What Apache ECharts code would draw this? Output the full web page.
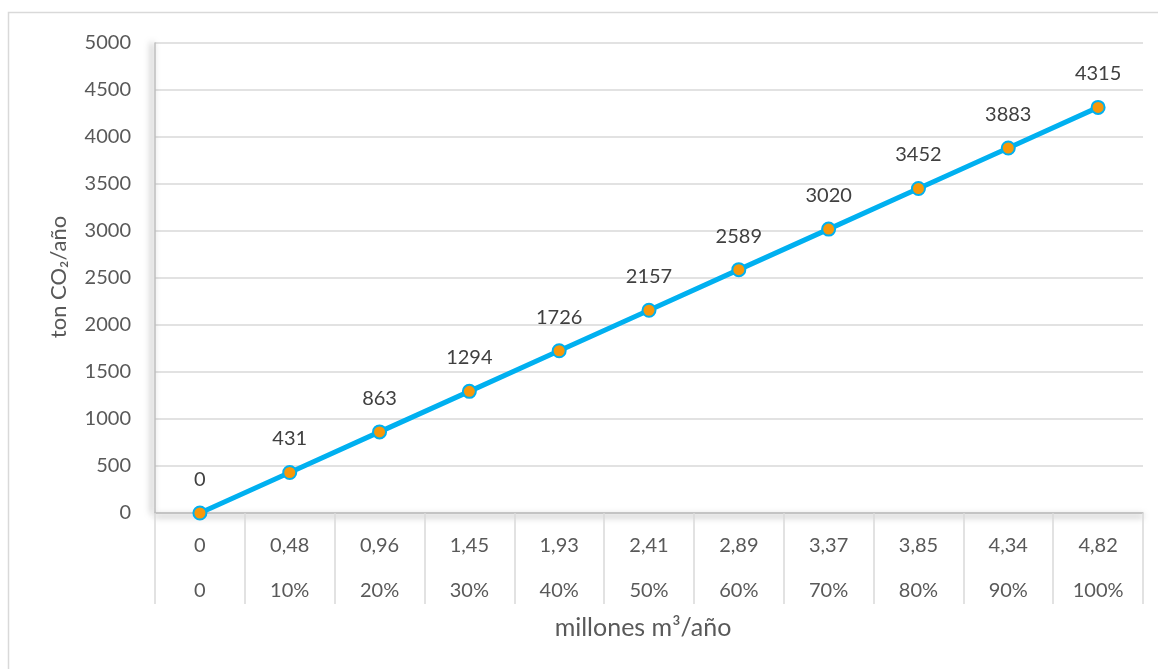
<!DOCTYPE html>
<html>
<head>
<meta charset="utf-8">
<script src="https://cdn.jsdelivr.net/npm/echarts@6/dist/echarts.min.js"></script>
<style>
  html, body { margin: 0; padding: 0; background: #fff; }
  #chart { width: 1158px; height: 669px; }
</style>
</head>
<body>
<div id="chart"></div>
<script>
// Caudal (millones m³/año), porcentaje y emisiones evitadas (ton CO₂/año)
const caudal = ['0', '0,48', '0,96', '1,45', '1,93', '2,41', '2,89', '3,37', '3,85', '4,34', '4,82'];
const porcentaje = ['0', '10%', '20%', '30%', '40%', '50%', '60%', '70%', '80%', '90%', '100%'];
const emisiones = [0, 431, 863, 1294, 1726, 2157, 2589, 3020, 3452, 3883, 4315];

const FONT = "Lato, 'DejaVu Sans', sans-serif";
const TXT = '#595959';

const chart = echarts.init(document.getElementById('chart'), null, { renderer: 'canvas' });

chart.setOption({
  backgroundColor: '#ffffff',
  animation: false,
  grid: { left: 155, right: 15, top: 43, bottom: 156 },
  graphic: [
    {
      type: 'rect',
      shape: { x: 8.5, y: 12.5, width: 1200, height: 700 },
      style: { fill: 'none', stroke: '#d9d9d9', lineWidth: 1.5 },
      silent: true
    },
    {
      type: 'text',
      x: 59, y: 277,
      rotation: Math.PI / 2,
      style: {
        text: 'ton CO₂/año',
        font: '22px ' + FONT,
        fill: TXT,
        textAlign: 'center',
        textVerticalAlign: 'middle'
      }
    },
    {
      type: 'text',
      x: 643, y: 628,
      style: {
        text: 'millones m³/año',
        font: '25px ' + FONT,
        fill: TXT,
        textAlign: 'center',
        textVerticalAlign: 'middle'
      }
    }
  ],
  xAxis: {
    type: 'category',
    data: caudal,
    boundaryGap: true,
    axisLine: {
      show: true,
      lineStyle: {
        color: '#bfbfbf', width: 1.5,
        shadowColor: 'rgba(0,0,0,0.55)', shadowBlur: 6, shadowOffsetY: 3
      }
    },
    axisTick: {
      show: true, interval: 0, length: 91, alignWithLabel: false,
      lineStyle: { color: '#d9d9d9', width: 1.5 }
    },
    axisLabel: {
      interval: 0,
      margin: 10,
      color: TXT,
      fontFamily: FONT,
      fontSize: 20,
      lineHeight: 45,
      formatter: (v, i) => v + '\n' + porcentaje[i]
    },
    splitLine: { show: false }
  },
  yAxis: {
    type: 'value',
    min: 0, max: 5000, interval: 500,
    axisLine: {
      show: true,
      lineStyle: {
        color: '#bfbfbf', width: 1.5,
        shadowColor: 'rgba(0,0,0,0.55)', shadowBlur: 6, shadowOffsetX: -3
      }
    },
    axisTick: { show: false },
    axisLabel: {
      color: TXT, fontFamily: FONT, fontSize: 20, margin: 24,
      formatter: v => String(v)
    },
    splitLine: { show: true, lineStyle: { color: '#d9d9d9', width: 1.5 } }
  },
  series: [{
    type: 'line',
    data: emisiones,
    symbol: 'circle',
    symbolSize: 13,
    lineStyle: { color: '#00B0F0', width: 5 },
    itemStyle: { color: '#F7980A', borderColor: '#00B0F0', borderWidth: 2 },
    label: {
      show: true,
      position: 'top',
      distance: 16,
      color: '#404040',
      fontFamily: FONT,
      fontSize: 20
    },
    z: 5
  }]
});
</script>
</body>
</html>
